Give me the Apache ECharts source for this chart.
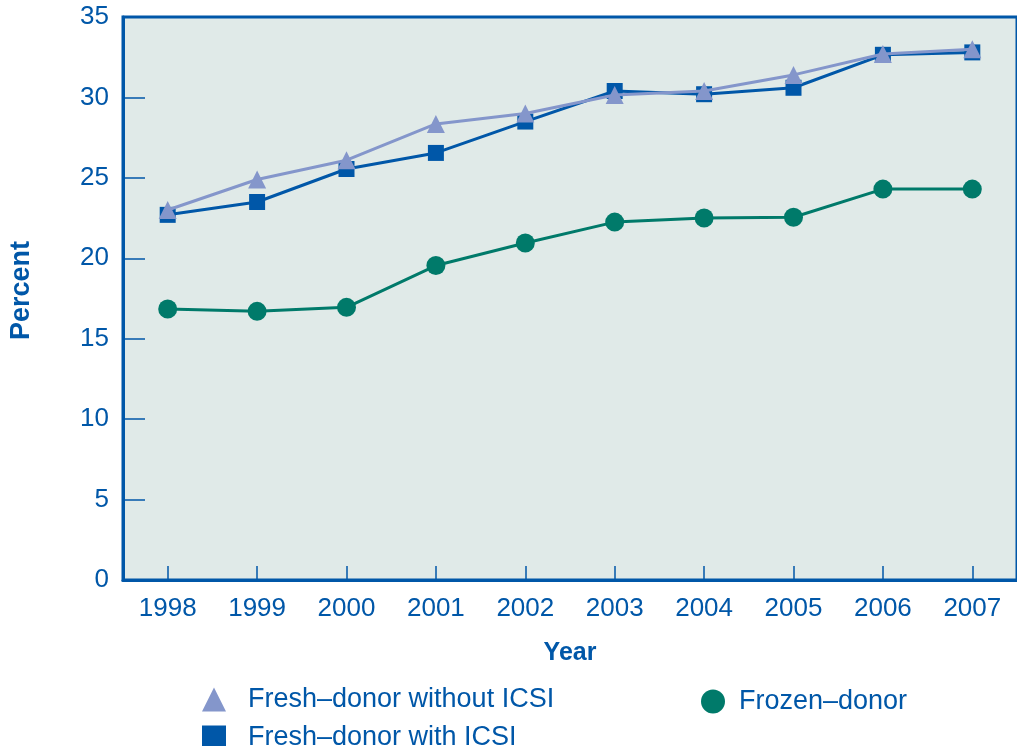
<!DOCTYPE html>
<html>
<head>
<meta charset="utf-8">
<script src="https://cdn.jsdelivr.net/npm/echarts@6/dist/echarts.min.js"></script>
<style>
  html, body { margin: 0; padding: 0; background: #ffffff; }
  #chart { width: 1017px; height: 746px; }
</style>
</head>
<body>
<div id="chart"></div>
<script>
// Donor-egg cycle success rates by year
const years = ['1998', '1999', '2000', '2001', '2002', '2003', '2004', '2005', '2006', '2007'];
const freshWithoutICSI = [23.0, 24.9, 26.1, 28.35, 29.0, 30.15, 30.4, 31.4, 32.7, 33.0];
const freshWithICSI = [22.7, 23.5, 25.55, 26.55, 28.5, 30.4, 30.2, 30.6, 32.65, 32.8];
const frozenDonor = [16.85, 16.7, 16.95, 19.55, 20.95, 22.25, 22.5, 22.55, 24.3, 24.3];
const yTicks = [0, 5, 10, 15, 20, 25, 30, 35];

const BLUE = '#0057a8';
const LIGHT = '#8496cb';
const GREEN = '#007a6a';
const FONT = '"Liberation Sans", Arial, sans-serif';

const chart = echarts.init(document.getElementById('chart'), null, { renderer: 'canvas' });

const legendText = { color: BLUE, fontSize: 27, lineHeight: 24, fontFamily: FONT };

chart.setOption({
  animation: false,
  backgroundColor: '#ffffff',
  grid: {
    left: 123, top: 17, right: -3, bottom: 166,
    show: true,
    backgroundColor: '#e0eae8',
    borderColor: BLUE,
    borderWidth: 3
  },
  legend: [
    {
      orient: 'vertical',
      left: 202, top: 686,
      width: 420, height: 70,
      padding: 0,
      itemWidth: 24, itemHeight: 24, itemGap: 11,
      textStyle: Object.assign({ padding: [0, 0, 0, 17] }, legendText),
      data: [
        { name: 'Fresh–donor without ICSI', icon: 'triangle' },
        { name: 'Fresh–donor with ICSI', icon: 'rect' }
      ],
      selectedMode: false
    },
    {
      orient: 'vertical',
      left: 701, top: 688,
      width: 300, height: 40,
      padding: 0,
      itemWidth: 24, itemHeight: 24,
      textStyle: Object.assign({ padding: [0, 0, 0, 9] }, legendText),
      data: [{ name: 'Frozen–donor', icon: 'circle' }],
      selectedMode: false
    }
  ],
  xAxis: {
    type: 'category',
    data: years,
    boundaryGap: true,
    name: 'Year',
    nameLocation: 'middle',
    nameGap: 61,
    nameTextStyle: { color: BLUE, fontSize: 25, fontWeight: 'bold', fontFamily: FONT },
    axisLine: { show: true, lineStyle: { color: BLUE, width: 3 } },
    axisTick: { show: true, inside: true, alignWithLabel: true, length: 14, lineStyle: { color: BLUE, width: 1.5 } },
    axisLabel: { color: BLUE, fontSize: 26, fontFamily: FONT, margin: 16 },
    splitLine: { show: false }
  },
  yAxis: {
    type: 'value',
    min: yTicks[0],
    max: yTicks[yTicks.length - 1],
    interval: 5,
    name: 'Percent',
    nameLocation: 'middle',
    nameGap: 88,
    nameTextStyle: { color: BLUE, fontSize: 27, fontWeight: 'bold', fontFamily: FONT, padding: [0, 0, 0, 16] },
    axisLine: { show: true, lineStyle: { color: BLUE, width: 3 } },
    axisTick: { show: true, inside: true, length: 22, lineStyle: { color: BLUE, width: 1.5 } },
    axisLabel: { color: BLUE, fontSize: 26, fontFamily: FONT, margin: 14 },
    splitLine: { show: false }
  },
  series: [
    {
      name: 'Frozen–donor',
      type: 'line',
      data: frozenDonor,
      symbol: 'circle',
      symbolSize: 19,
      lineStyle: { color: GREEN, width: 3 },
      itemStyle: { color: GREEN },
      z: 2
    },
    {
      name: 'Fresh–donor with ICSI',
      type: 'line',
      data: freshWithICSI,
      symbol: 'rect',
      symbolSize: 16,
      lineStyle: { color: BLUE, width: 3 },
      itemStyle: { color: BLUE },
      z: 3
    },
    {
      name: 'Fresh–donor without ICSI',
      type: 'line',
      data: freshWithoutICSI,
      symbol: 'triangle',
      symbolSize: 18,
      lineStyle: { color: LIGHT, width: 3 },
      itemStyle: { color: LIGHT },
      z: 4
    }
  ]
});
</script>
</body>
</html>
